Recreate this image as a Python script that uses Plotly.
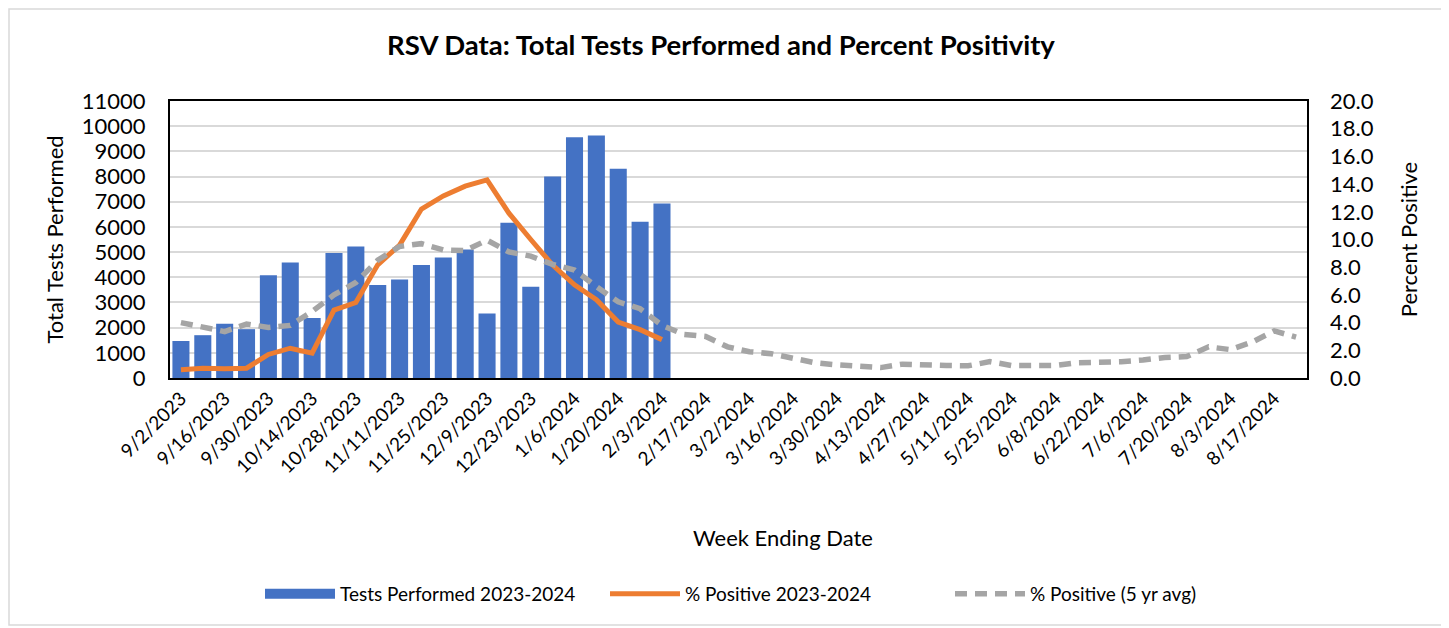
import plotly.graph_objects as go

weeks = [
    "9/2/2023", "9/9/2023", "9/16/2023", "9/23/2023", "9/30/2023", "10/7/2023",
    "10/14/2023", "10/21/2023", "10/28/2023", "11/4/2023", "11/11/2023", "11/18/2023",
    "11/25/2023", "12/2/2023", "12/9/2023", "12/16/2023", "12/23/2023", "12/30/2023",
    "1/6/2024", "1/13/2024", "1/20/2024", "1/27/2024", "2/3/2024", "2/10/2024",
    "2/17/2024", "2/24/2024", "3/2/2024", "3/9/2024", "3/16/2024", "3/23/2024",
    "3/30/2024", "4/6/2024", "4/13/2024", "4/20/2024", "4/27/2024", "5/4/2024",
    "5/11/2024", "5/18/2024", "5/25/2024", "6/1/2024", "6/8/2024", "6/15/2024",
    "6/22/2024", "6/29/2024", "7/6/2024", "7/13/2024", "7/20/2024", "7/27/2024",
    "8/3/2024", "8/10/2024", "8/17/2024", "8/24/2024",
]

tests_2324 = [1470, 1700, 2150, 1940, 4080, 4590, 2380, 4960, 5220, 3690, 3910, 4490,
              4790, 5100, 2560, 6170, 3620, 8000, 9560, 9630, 8310, 6200, 6930]

pos_2324 = [0.6, 0.7, 0.66, 0.71, 1.7, 2.15, 1.8, 4.9, 5.45, 8.17, 9.6, 12.2,
            13.15, 13.85, 14.3, 11.9, 10.0, 8.15, 6.73, 5.65, 4.04, 3.49, 2.77]

pos_5yr = [4.0, 3.65, 3.35, 3.9, 3.65, 3.8, 4.8, 6.0, 6.9, 8.5, 9.5, 9.7,
           9.25, 9.2, 9.95, 9.1, 8.8, 8.2, 7.8, 6.6, 5.5, 5.0, 3.8, 3.15,
           3.0, 2.25, 1.9, 1.75, 1.4, 1.1, 0.95, 0.9, 0.75, 1.0, 0.92, 0.9,
           0.88, 1.18, 0.9, 0.94, 0.9, 1.1, 1.1, 1.18, 1.3, 1.48, 1.55, 2.25,
           2.05, 2.6, 3.4, 2.95]

tick_labels = weeks[::2]

names = ["Tests Performed 2023-2024", "% Positive 2023-2024", "% Positive (5 yr avg)"]
BLUE, ORANGE, GRAY = "#4472C4", "#ED7D31", "#A5A5A5"

FONT = "Lato"
OFF = 8  # page body margin
W, H = 1449 - OFF, 628 - OFF
L, R, T, B = 170 - OFF, 142, 101 - OFF, 250
pw = W - L - R
ph = H - T - B


def px_x(page_x):
    return (page_x - OFF - L) / pw


def px_y(page_y):
    return (H - B - (page_y - OFF)) / ph


fig = go.Figure()
fig.add_trace(go.Bar(
    x=weeks[:len(tests_2324)], y=tests_2324, name=names[0],
    marker=dict(color=BLUE, line=dict(width=0)), yaxis="y", showlegend=False,
))
# legend entry for bars drawn as a wide block
fig.add_trace(go.Scatter(
    x=[None], y=[None], name=names[0], mode="lines",
    line=dict(color=BLUE, width=12), yaxis="y",
))
fig.add_trace(go.Scatter(
    x=weeks[:len(pos_2324)], y=pos_2324, name=names[1], mode="lines",
    line=dict(color=ORANGE, width=5), yaxis="y2",
))
fig.add_trace(go.Scatter(
    x=weeks, y=pos_5yr, name=names[2], mode="lines",
    line=dict(color=GRAY, width=5.5, dash="12px,8px"), yaxis="y2",
))

fig.add_shape(type="rect", xref="paper", yref="paper",
              x0=(1 - L) / pw, x1=(1437 - L) / pw,
              y0=(H - B - 617) / ph, y1=(H - B - 1) / ph,
              line=dict(color="#D9D9D9", width=1.5), layer="below")

fig.update_layout(
    width=W, height=H,
    margin=dict(l=L, r=R, t=T, b=B),
    paper_bgcolor="white", plot_bgcolor="white",
    font=dict(family=FONT, color="black", size=20),
    title=dict(text="<b>RSV Data: Total Tests Performed and Percent Positivity</b>",
               x=(721 - OFF) / W, xanchor="center", y=1 - (45 - OFF) / H, yanchor="middle",
               font=dict(family=FONT, size=27.5, color="black")),
    bargap=0.22,
    showlegend=True,
    legend=dict(orientation="h", x=px_x(268 - 8), xanchor="left", y=px_y(594),
                yanchor="middle", font=dict(family=FONT, size=19, color="black"),
                itemwidth=70, entrywidth=260, entrywidthmode="pixels",
                traceorder="normal"),
    xaxis=dict(
        type="category", categoryorder="array", categoryarray=weeks,
        range=[-0.5, len(weeks) - 0.5],
        tickmode="array", tickvals=tick_labels, ticktext=tick_labels,
        tickangle=-45, tickfont=dict(family=FONT, size=19),
        showline=True, mirror=True, linecolor="black", linewidth=2,
        showgrid=False, ticks="", ticklabelstandoff=0,
    ),
    yaxis=dict(
        range=[0, 11000], dtick=1000, tick0=0, tickformat="d",
        showgrid=True, gridcolor="#D9D9D9", gridwidth=1.5,
        showline=True, mirror=True, linecolor="black", linewidth=2,
        tickfont=dict(family=FONT, size=22), ticks="", ticklabelstandoff=18,
        title=dict(text="Total Tests Performed", font=dict(family=FONT, size=22), standoff=12),
        zeroline=False,
    ),
    yaxis2=dict(
        overlaying="y", side="right", range=[0, 20], dtick=2, tick0=0,
        tickformat=".1f", showgrid=False, zeroline=False,
        tickfont=dict(family=FONT, size=22), ticks="", ticklabelstandoff=22,
        title=dict(text="Percent Positive", font=dict(family=FONT, size=22), standoff=28),
    ),
    annotations=[dict(text="Week Ending Date", xref="paper", yref="paper",
                      x=px_x(783), y=px_y(537), xanchor="center",
                      yanchor="middle", showarrow=False,
                      font=dict(family=FONT, size=22, color="black"))],
)

fig.write_html("out.html")
